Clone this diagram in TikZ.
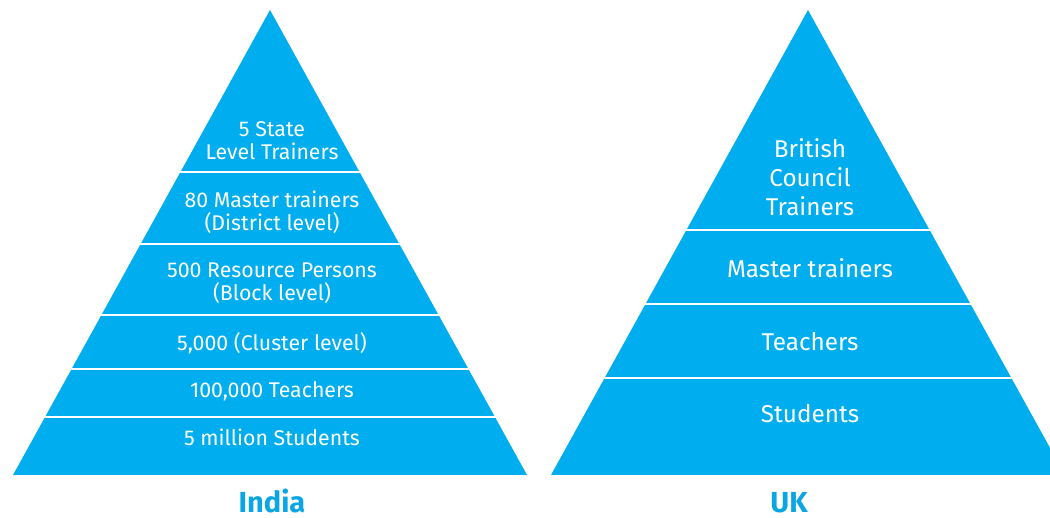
\documentclass[tikz,border=0pt]{standalone}
\usepackage{fontspec}
\setmainfont{Fira Sans}
\begin{document}
\definecolor{bccyan}{HTML}{00AEEF}
\definecolor{bctitle}{HTML}{0AA6E4}
\begin{tikzpicture}[x=1pt,y=-1pt,
  tier/.style={text=white, align=center, font=\fontsize{21.3}{23}\selectfont},
  bigtier/.style={text=white, align=center, font=\fontsize{24.3}{29}\selectfont},
  caption/.style={text=bctitle, inner sep=0pt, font=\fontsize{29}{32}\bfseries\selectfont, anchor=base},
  divider/.style={white, line width=2.6pt}]
\useasboundingbox (0,0) rectangle (1050,518);

% India pyramid
\fill[bccyan] (270,10) -- (527,475) -- (13,475) -- cycle;
\foreach \y in {172,244,315,369,417}
  \draw[divider] (0,\y) -- (540,\y);

\node[tier, anchor=center] (i1) at (272,140.5) {5 State\\Level Trainers};
\node[tier, anchor=center] (i2) at (272,212.5) {80 Master trainers\\(District level)};
\node[tier, anchor=center] (i3) at (272,283.5) {500 Resource Persons\\(Block level)};
\node[tier, anchor=base] (i4) at (272,351) {5,000 (Cluster level)};
\node[tier, anchor=base] (i5) at (272,398) {100,000 Teachers};
\node[tier, anchor=base] (i6) at (272,446) {5 million Students};
\node[caption] (india) at (272,512.5) {India};

% UK pyramid
\fill[bccyan] (808,10) -- (1065,475) -- (551,475) -- cycle;
\foreach \y in {230,304,378}
  \draw[divider] (545,\y) -- (1050,\y);

\node[bigtier, anchor=center] (u1) at (810,177) {British\\Council\\Trainers};
\node[bigtier, anchor=base] (u2) at (810,278) {Master trainers};
\node[bigtier, anchor=base] (u3) at (810,351) {Teachers};
\node[bigtier, anchor=base] (u4) at (810,423) {Students};
\node[caption] (uk) at (789,512.5) {UK};
\end{tikzpicture}
\end{document}
